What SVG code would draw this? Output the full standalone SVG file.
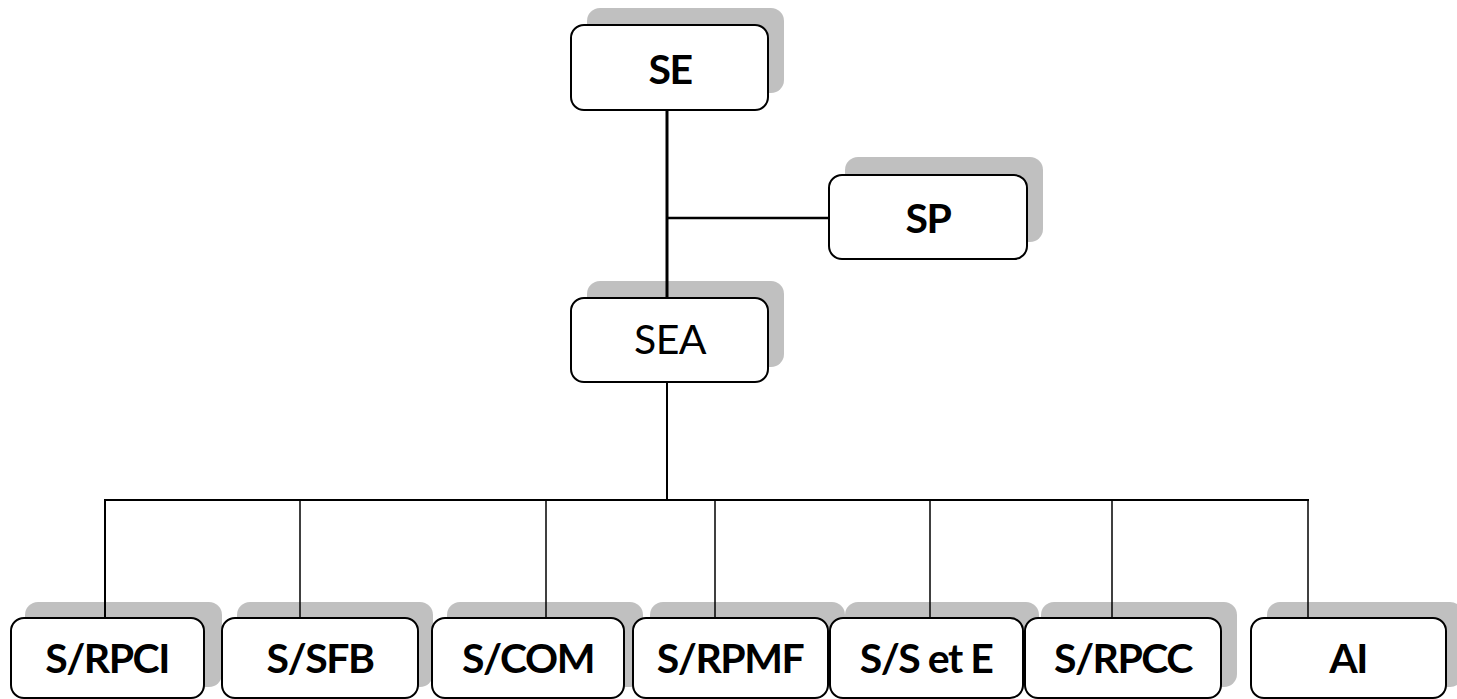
<svg xmlns="http://www.w3.org/2000/svg" width="1457" height="699" viewBox="0 0 1457 699">
<style>
.sh{fill:#c0c0c0}
.bx{fill:#fff;stroke:#000;stroke-width:2}
.t{font-family:Lato,"Liberation Sans",sans-serif;font-size:41px;font-weight:bold;text-anchor:middle;fill:#000;letter-spacing:-1.5px}
.n{font-weight:normal;letter-spacing:-0.5px}
.c{stroke:#000;fill:none}
</style>
<rect width="1457" height="699" fill="#fff"/>
<g id="SE">
<rect class="sh" x="587" y="8" width="197" height="85" rx="13"/>
<rect class="bx" x="571" y="25" width="197" height="85" rx="13"/>
<text class="t" x="670" y="84">SE</text>
</g>
<g id="SP">
<rect class="sh" x="845" y="157" width="198" height="85" rx="13"/>
<rect class="bx" x="829" y="175" width="198" height="84" rx="13"/>
<text class="t" x="928" y="233">SP</text>
</g>
<g id="SEA">
<rect class="sh" x="587" y="281" width="197" height="86" rx="13"/>
<rect class="bx" x="571" y="298" width="197" height="84" rx="13"/>
<text class="t n" x="670" y="354">SEA</text>
</g>
<g id="S_RPCI">
<rect class="sh" x="25" y="602" width="197" height="85" rx="13"/>
<rect class="bx" x="11" y="618" width="193" height="80" rx="13"/>
<text class="t" x="107" y="673">S/RPCI</text>
</g>
<g id="S_SFB">
<rect class="sh" x="237" y="602" width="196" height="85" rx="13"/>
<rect class="bx" x="222" y="618" width="196" height="80" rx="13"/>
<text class="t" x="320" y="673">S/SFB</text>
</g>
<g id="S_COM">
<rect class="sh" x="447" y="602" width="196" height="85" rx="13"/>
<rect class="bx" x="432" y="618" width="192" height="80" rx="13"/>
<text class="t" x="528" y="673">S/COM</text>
</g>
<g id="S_RPMF">
<rect class="sh" x="650" y="602" width="195" height="85" rx="13"/>
<rect class="bx" x="633" y="618" width="195" height="80" rx="13"/>
<text class="t" x="730" y="673">S/RPMF</text>
</g>
<g id="S_SetE">
<rect class="sh" x="845" y="602" width="194" height="85" rx="13"/>
<rect class="bx" x="830" y="618" width="193" height="80" rx="13"/>
<text class="t" x="926" y="673">S/S et E</text>
</g>
<g id="S_RPCC">
<rect class="sh" x="1041" y="602" width="196" height="85" rx="13"/>
<rect class="bx" x="1025" y="618" width="196" height="80" rx="13"/>
<text class="t" x="1123" y="673">S/RPCC</text>
</g>
<g id="AI">
<rect class="sh" x="1267" y="602" width="196" height="85" rx="13"/>
<rect class="bx" x="1251" y="618" width="195" height="80" rx="13"/>
<text class="t" x="1348" y="673">AI</text>
</g>
<g id="connectors">
<line class="c" x1="667" y1="111" x2="667" y2="297" stroke-width="3"/>
<line class="c" x1="667" y1="218" x2="828" y2="218" stroke-width="2.5"/>
<line class="c" x1="667" y1="383" x2="667" y2="500" stroke-width="2"/>
<line class="c" x1="104" y1="500" x2="1309" y2="500" stroke-width="2"/>
<line class="c" x1="105" y1="499" x2="105" y2="617" stroke-width="2"/>
<line class="c" x1="300" y1="500" x2="300" y2="617" stroke-width="1.5"/>
<line class="c" x1="546" y1="500" x2="546" y2="617" stroke-width="1.5"/>
<line class="c" x1="715" y1="500" x2="715" y2="617" stroke-width="1.5"/>
<line class="c" x1="930" y1="500" x2="930" y2="617" stroke-width="1.5"/>
<line class="c" x1="1112" y1="500" x2="1112" y2="617" stroke-width="1.5"/>
<line class="c" x1="1308" y1="499" x2="1308" y2="617" stroke-width="1.5"/>
</g>
</svg>
